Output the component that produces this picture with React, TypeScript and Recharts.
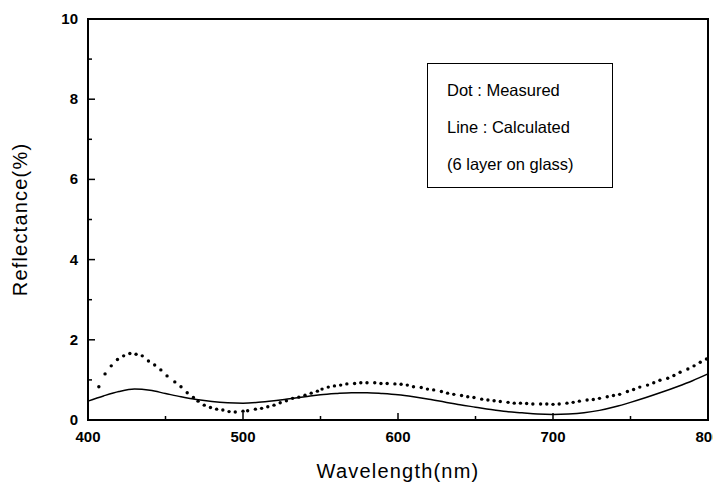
import React from "react"
import { ComposedChart, Line, Scatter, XAxis, YAxis, ReferenceArea } from "recharts"

// measured reflectance (dots)
const measuredNm = [
  407, 411, 415, 419, 423, 427, 431, 435, 439, 443, 447, 451, 456, 460, 464, 468, 471, 475, 479, 483,
  487, 491, 495, 500, 503, 508, 512, 516, 520, 524, 528, 532, 536, 540, 544, 548, 551, 555, 559, 563,
  567, 572, 576, 580, 585, 589, 593, 598, 602, 606, 610, 615, 619, 623, 628, 632, 636, 641, 645, 649,
  654, 658, 662, 666, 671, 675, 679, 683, 687, 692, 696, 700, 704, 709, 713, 717, 722, 726, 730, 735,
  739, 743, 748, 752, 756, 761, 765, 769, 774, 778, 782, 787, 791, 795, 799,
]
const measuredR = [
  0.83, 1.15, 1.35, 1.51, 1.6, 1.66, 1.64, 1.6, 1.47, 1.37, 1.25, 1.1, 0.95, 0.83, 0.68, 0.56, 0.47, 0.37, 0.31, 0.27,
  0.25, 0.21, 0.2, 0.22, 0.23, 0.27, 0.29, 0.33, 0.37, 0.43, 0.48, 0.54, 0.57, 0.62, 0.67, 0.72, 0.77, 0.82, 0.85, 0.87,
  0.9, 0.91, 0.93, 0.93, 0.93, 0.91, 0.91, 0.9, 0.89, 0.87, 0.83, 0.81, 0.77, 0.75, 0.71, 0.67, 0.64, 0.61, 0.58, 0.56,
  0.52, 0.5, 0.48, 0.46, 0.44, 0.42, 0.42, 0.41, 0.4, 0.4, 0.4, 0.39, 0.4, 0.42, 0.44, 0.47, 0.5, 0.51, 0.54, 0.58,
  0.61, 0.64, 0.71, 0.76, 0.82, 0.87, 0.93, 0.99, 1.04, 1.11, 1.19, 1.27, 1.35, 1.44, 1.52,
]

// calculated reflectance (line)
const calcNm = [
  400, 410, 420, 430, 440, 450, 460, 470, 480, 490, 500, 510, 520, 530, 540, 550, 560, 570, 580, 590, 600,
  610, 620, 630, 640, 650, 660, 670, 680, 690, 700, 710, 720, 730, 740, 750, 760, 770, 780, 790, 800,
]
const calcR = [
  0.47, 0.6, 0.71, 0.77, 0.74, 0.66, 0.58, 0.51, 0.46, 0.43, 0.42, 0.44, 0.48, 0.53, 0.58, 0.63, 0.66, 0.68, 0.68, 0.66, 0.63,
  0.58, 0.52, 0.45, 0.38, 0.32, 0.26, 0.21, 0.18, 0.15, 0.14, 0.15, 0.18, 0.24, 0.33, 0.44, 0.56, 0.69, 0.83, 0.98, 1.15,
]

const xTicks = [400, 450, 500, 550, 600, 650, 700, 750, 800]
const yTicks = [0, 1, 2, 3, 4, 5, 6, 7, 8, 9, 10]
const legendLines = ["Dot : Measured", "Line : Calculated", "(6 layer on glass)"]

const measured = measuredNm.map((x, i) => ({ x, y: measuredR[i] }))
const calculated = calcNm.map((x, i) => ({ x, y: calcR[i] }))

const font = "'Liberation Sans', Arial, sans-serif"

const XTick = (props: any) => {
  const { x, y, payload } = props
  const major = payload.value % 100 === 0
  const axisY = y - 10
  return (
    <g>
      <line x1={x} x2={x} y1={axisY} y2={axisY - (major ? 7 : 4)} stroke="#000" strokeWidth={1.5} />
      {major && (
        <text x={x} y={axisY + 22} textAnchor="middle" fontSize={15} fontWeight="bold" fontFamily={font} fill="#000">
          {payload.value}
        </text>
      )}
    </g>
  )
}

const YTick = (props: any) => {
  const { x, y, payload } = props
  const major = payload.value % 2 === 0
  const axisX = x + 10
  return (
    <g>
      <line x1={axisX} x2={axisX + (major ? 7 : 4)} y1={y} y2={y} stroke="#000" strokeWidth={1.5} />
      {major && (
        <text x={axisX - 10} y={y + 5} textAnchor="end" fontSize={15} fontWeight="bold" fontFamily={font} fill="#000">
          {payload.value}
        </text>
      )}
    </g>
  )
}

const Dot = (props: any) => <circle cx={props.cx} cy={props.cy} r={1.7} fill="#000" />

export default function App() {
  return (
    <div style={{ margin: -8, width: 721, height: 490, background: "#fff", position: "relative" }}>
      <ComposedChart width={721} height={490} margin={{ top: 19, right: 13, bottom: 0, left: 0 }}>
        <XAxis
          type="number"
          dataKey="x"
          domain={[400, 800]}
          ticks={xTicks}
          interval={0}
          height={70}
          tickSize={0}
          tickMargin={10}
          axisLine={{ stroke: "#000", strokeWidth: 2 }}
          tick={<XTick />}
          label={{ value: "Wavelength(nm)", position: "insideBottom", offset: 12, fontSize: 20, fontFamily: font, fill: "#000", letterSpacing: 1.2 }}
        />
        <YAxis
          type="number"
          dataKey="y"
          domain={[0, 10]}
          ticks={yTicks}
          interval={0}
          width={88}
          tickSize={0}
          tickMargin={10}
          axisLine={{ stroke: "#000", strokeWidth: 2 }}
          tick={<YTick />}
          label={{ value: "Reflectance(%)", angle: -90, position: "insideLeft", offset: 20, style: { textAnchor: "middle" }, fontSize: 20, fontFamily: font, fill: "#000", letterSpacing: 1.2 }}
        />
        <ReferenceArea x1={400} x2={800} y1={0} y2={10} fill="none" stroke="#000" strokeWidth={2} />
        <Line
          data={calculated}
          dataKey="y"
          type="monotone"
          stroke="#000"
          strokeWidth={1.5}
          dot={false}
          activeDot={false}
          isAnimationActive={false}
        />
        <Scatter data={measured} dataKey="y" fill="#000" shape={<Dot />} isAnimationActive={false} />
      </ComposedChart>
      <div
        style={{
          position: "absolute",
          left: 427,
          top: 63,
          width: 186,
          height: 125,
          border: "1.5px solid #000",
          boxSizing: "border-box",
          fontFamily: font,
          fontSize: 16.5,
          color: "#000",
          paddingLeft: 19,
          paddingTop: 16,
        }}
      >
        {legendLines.map((t) => (
          <div key={t} style={{ height: 37, lineHeight: "20px", whiteSpace: "nowrap" }}>{t}</div>
        ))}
      </div>
    </div>
  )
}
